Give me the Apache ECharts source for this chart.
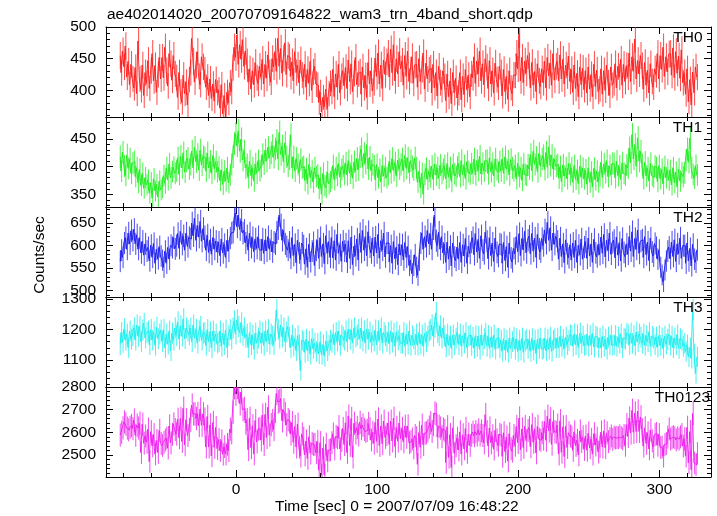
<!DOCTYPE html>
<html>
<head>
<meta charset="utf-8">
<script src="https://cdn.jsdelivr.net/npm/echarts@6/dist/echarts.min.js"></script>
<style>html,body{margin:0;padding:0;background:#fff}#c{width:717px;height:516px}</style>
</head>
<body>
<div id="c"></div>
<script>
// ---- data: WAM light curves, 1-s bins, time of first bin centre ----
const TIME_START = -82;   // s
const BIN_SEC = 1;        // s

const th0 = [
455,428,462,437,470,421,446,409,441,418,
404,436,395,478,418,401,440,392,428,411,
447,403,431,458,415,439,397,425,452,418,
452,420,468,431,407,458,442,416,455,426,
420,389,428,398,381,424,395,413,377,417,
428,482,446,413,440,461,422,409,453,437,
432,405,421,392,418,387,410,383,417,396,
401,372,409,363,392,358,397,380,412,398,
436,468,452,487,441,472,449,480,438,462,
445,413,434,402,431,409,444,420,411,438,
421,449,410,441,419,456,428,413,450,437,
461,430,482,438,466,427,451,475,425,455,
452,422,445,415,461,428,440,412,448,424,
414,441,405,433,411,446,400,429,438,410,
408,381,397,366,389,374,402,370,395,411,
398,433,390,426,405,441,396,422,431,407,
436,403,448,414,442,398,427,452,409,426,
429,394,437,404,423,389,444,410,431,399,
412,451,422,459,410,440,403,448,425,445,
458,421,465,428,472,415,450,426,461,434,
446,408,455,422,462,414,432,453,411,440,
441,405,450,414,433,459,402,443,418,432,
435,396,441,404,428,391,438,412,401,431,
422,384,426,390,415,379,428,396,419,388,
396,428,385,422,393,433,401,424,390,426,
420,453,411,446,426,462,415,442,409,450,
437,403,447,410,431,396,443,417,405,438,
428,391,433,398,422,386,431,404,395,424,
424,458,434,489,415,452,412,446,427,455,
439,404,444,408,430,398,442,415,406,434,
412,446,404,452,423,443,408,458,416,438,
446,415,456,418,449,410,440,423,454,414,
433,397,440,403,427,390,437,409,435,401,
431,396,437,402,425,390,441,406,432,398,
402,434,394,431,400,440,412,392,437,408,
412,442,404,438,421,449,408,441,414,439,
421,459,414,453,430,481,418,447,426,455,
439,402,444,408,432,396,442,414,405,434,
425,458,418,455,433,468,422,453,429,457,
458,424,467,420,461,427,454,419,464,412,
428,394,434,382,417,377,429,396,437,421
];

const th1 = [
418,392,426,401,384,421,397,414,388,406,
409,382,398,371,395,366,388,361,380,367,
376,352,371,343,378,356,368,345,374,358,
362,384,370,398,376,405,380,391,399,388,
392,416,386,419,398,425,390,410,415,396,
404,428,398,435,409,422,394,430,403,418,
416,392,425,398,410,388,420,396,409,391,
399,375,394,368,392,374,398,371,385,404,
418,442,460,438,465,428,450,412,428,398,
404,380,410,384,398,374,405,388,411,393,
400,422,405,430,410,435,416,425,438,417,
432,447,414,462,422,437,409,443,418,401,
414,458,398,418,392,415,404,389,413,398,
400,375,396,369,404,380,393,372,398,382,
385,360,380,350,388,366,362,391,369,373,
380,402,376,398,384,406,381,395,401,386,
407,385,411,388,402,379,409,392,415,394,
418,432,399,424,406,440,396,417,393,404,
401,376,404,380,395,372,402,383,398,380,
386,410,389,415,393,407,383,412,396,404,
414,392,420,397,416,389,411,400,394,416,
398,372,391,362,388,350,386,397,377,392,
381,401,377,405,385,398,379,403,388,395,
402,378,406,381,398,373,404,387,383,399,
406,382,411,385,402,378,409,391,387,405,
388,414,385,411,393,419,387,406,392,410,
411,387,416,391,406,383,414,395,390,409,
392,414,388,418,395,410,385,413,398,393,
402,378,406,382,398,375,405,386,384,403,
396,422,393,428,404,417,391,424,401,414,
420,395,426,399,436,402,421,396,414,401,
404,379,400,373,403,383,398,378,406,386,
398,372,402,377,393,369,401,381,397,378,
394,368,398,372,390,363,397,376,392,372,
383,408,380,405,389,411,382,402,386,406,
405,380,410,384,401,377,407,388,385,403,
398,434,407,458,414,440,401,452,410,428,
404,378,408,383,398,374,406,384,381,401,
398,373,402,378,395,369,400,380,394,376,
393,367,398,371,390,363,396,374,389,382,
389,412,432,408,452,398,386,379,402,385
];

const th2 = [
565,590,574,606,618,592,628,604,633,612,
636,604,624,592,618,584,610,579,604,588,
596,566,601,574,605,561,592,571,598,577,
568,552,588,561,596,570,601,596,618,593,
600,627,594,632,603,622,590,628,598,618,
615,650,622,661,612,645,619,654,610,638,
620,590,624,585,613,581,618,592,610,586,
608,578,615,584,603,574,612,588,617,628,
630,660,672,642,668,636,656,628,634,606,
622,590,628,596,618,587,615,594,620,591,
590,615,583,613,588,620,592,611,586,608,
604,630,638,668,646,612,634,604,598,590,
608,572,618,578,603,562,612,584,569,606,
600,559,593,552,603,564,588,607,556,590,
612,572,618,576,604,560,622,583,609,574,
618,573,611,568,625,583,602,565,610,588,
604,563,611,572,619,558,599,578,615,568,
627,585,634,590,620,578,631,597,584,617,
577,619,584,625,572,611,590,628,575,606,
606,564,600,561,609,571,597,558,604,579,
602,568,607,574,598,556,568,538,556,580,
552,534,568,606,628,592,620,598,634,604,
626,592,638,668,611,600,630,592,620,584,
604,563,608,570,599,555,606,575,567,597,
570,607,563,602,577,616,561,599,583,608,
618,580,627,586,614,572,622,590,582,630,
610,571,618,578,606,565,617,585,576,604,
602,561,607,567,598,552,606,573,564,594,
582,620,587,627,578,616,591,632,584,612,
621,582,627,588,617,574,625,593,586,616,
600,635,605,652,612,640,590,628,603,621,
610,570,617,576,604,562,613,582,573,602,
568,606,574,612,563,601,580,615,570,597,
609,572,617,577,604,563,614,584,575,603,
580,619,583,625,575,612,590,628,581,607,
612,573,619,579,607,566,616,585,576,604,
581,620,588,631,576,616,592,635,583,610,
613,574,620,580,608,567,617,586,577,605,
596,570,590,552,535,520,546,566,588,597,
571,608,576,613,565,604,582,617,572,600,
600,561,606,566,594,555,603,570,563,591
];

const th3 = [
1150,1190,1158,1202,1165,1185,1140,1195,1168,1180,
1205,1165,1215,1178,1210,1160,1198,1220,1172,1190,
1195,1150,1200,1165,1192,1148,1208,1170,1185,1198,
1160,1200,1140,1185,1152,1195,1130,1188,1165,1205,
1180,1225,1168,1212,1178,1235,1170,1205,1196,1182,
1205,1160,1215,1172,1200,1155,1195,1210,1165,1188,
1190,1148,1200,1160,1192,1140,1195,1162,1185,1155,
1160,1195,1145,1188,1150,1198,1140,1180,1200,1168,
1205,1228,1185,1232,1210,1190,1222,1180,1205,1175,
1185,1140,1190,1150,1182,1135,1188,1155,1172,1195,
1155,1190,1148,1195,1160,1200,1152,1185,1178,1150,
1195,1265,1200,1172,1215,1175,1205,1160,1192,1210,
1175,1140,1182,1145,1170,1130,1180,1150,1065,1165,
1160,1125,1168,1130,1162,1118,1170,1138,1155,1128,
1155,1120,1160,1118,1150,1112,1162,1130,1148,1165,
1158,1185,1150,1190,1162,1195,1148,1182,1175,1165,
1195,1160,1202,1168,1198,1155,1205,1175,1182,1200,
1170,1205,1162,1195,1155,1202,1168,1192,1158,1180,
1162,1198,1150,1195,1165,1205,1155,1190,1180,1160,
1190,1152,1195,1158,1188,1145,1192,1165,1180,1155,
1155,1190,1145,1185,1152,1195,1148,1180,1170,1150,
1185,1148,1190,1152,1182,1145,1188,1160,1178,1195,
1200,1215,1178,1208,1255,1190,1180,1212,1172,1205,
1180,1142,1185,1148,1178,1138,1182,1150,1172,1190,
1150,1185,1145,1180,1155,1190,1140,1178,1182,1148,
1175,1138,1180,1145,1178,1135,1182,1148,1170,1188,
1145,1180,1138,1175,1142,1182,1135,1170,1172,1140,
1165,1128,1170,1132,1165,1125,1172,1138,1160,1175,
1135,1170,1128,1165,1132,1172,1125,1162,1168,1138,
1165,1128,1170,1132,1165,1120,1168,1138,1172,1135,
1138,1172,1130,1168,1135,1175,1128,1165,1170,1140,
1172,1140,1178,1145,1168,1138,1175,1150,1165,1182,
1180,1145,1186,1150,1182,1140,1188,1155,1178,1148,
1150,1185,1145,1180,1150,1188,1142,1178,1175,1140,
1172,1140,1178,1145,1168,1135,1175,1150,1180,1148,
1150,1180,1145,1175,1155,1185,1140,1172,1168,1188,
1182,1150,1188,1155,1180,1148,1192,1160,1185,1175,
1155,1185,1148,1180,1160,1190,1145,1178,1172,1150,
1175,1142,1180,1148,1172,1138,1178,1152,1168,1185,
1148,1178,1140,1172,1150,1182,1138,1170,1165,1145,
1155,1128,1150,1110,1140,1105,1265,1120,1055,1110
];

// TH0123 is the sum of the four bands
const th0123 = th0.map((v, i) => v + th1[i] + th2[i] + th3[i]);

const panelNames = ['TH0', 'TH1', 'TH2', 'TH3', 'TH0123'];
const yMins = [358, 327, 486, 1011, 2403];
const yMaxs = [500, 490, 686, 1307, 2800];
const yLabelTicks = [[400,450,500],[350,400,450],[500,550,600,650],[1100,1200,1300],[2500,2600,2700,2800]];
const yMinorStep = [10, 10, 10, 20, 20];
const xLabelTicks = [0, 100, 200, 300];
const xMinorStep = 20;
const X_MIN = -92.1, X_MAX = 336.6;

const title = 'ae402014020_20070709164822_wam3_trn_4band_short.qdp';
const xTitle = 'Time [sec] 0 = 2007/07/09 16:48:22';
const yTitle = 'Counts/sec';

// ---- chart construction ----
const series_values = [th0, th1, th2, th3, th0123];
const colors = ['#ff1a1a', '#1aee1a', '#1a1aee', '#1aeeee', '#ee1aee'];
const FONT = '"Liberation Sans", Arial, Helvetica, sans-serif';
const gridTops = [27, 117, 207, 297, 387];
const PH = 90;

function multiples(min, max, step) {
  const out = [];
  for (let v = Math.ceil(min / step) * step; v <= max + 1e-9; v += step) out.push(v);
  return out;
}
const xMinor = multiples(X_MIN, X_MAX, xMinorStep);
const xMajor = multiples(X_MIN, X_MAX, 100);
const plain = v => String(Math.round(v));

const grid = [], xAxis = [], yAxis = [], series = [], graphic = [];
const lineStyle = { color: '#000', width: 1 };

series_values.forEach((vals, i) => {
  grid.push({ left: 106, right: 6, top: gridTops[i], height: PH });
  const base = { gridIndex: i, type: 'value', min: X_MIN, max: X_MAX, splitLine: { show: false }, axisLine: { show: false, onZero: false, lineStyle } };
  xAxis.push(Object.assign({}, base, { position: 'bottom', axisLine: { show: true, onZero: false, lineStyle },
    axisTick: { show: true, inside: true, length: 4, customValues: xMinor, lineStyle }, axisLabel: { show: false } }));
  xAxis.push(Object.assign({}, base, { position: 'bottom',
    axisTick: { show: true, inside: true, length: 7, customValues: xMajor, lineStyle },
    axisLabel: { show: i === 4, customValues: xLabelTicks, formatter: plain, margin: 5, fontSize: 15.5, color: '#000', fontFamily: FONT } }));
  xAxis.push(Object.assign({}, base, { position: 'top', axisLine: { show: true, onZero: false, lineStyle },
    axisTick: { show: true, inside: true, length: 4, customValues: xMinor, lineStyle }, axisLabel: { show: false } }));
  xAxis.push(Object.assign({}, base, { position: 'top',
    axisTick: { show: true, inside: true, length: 7, customValues: xMajor, lineStyle }, axisLabel: { show: false } }));

  const yb = { gridIndex: i, type: 'value', min: yMins[i], max: yMaxs[i], splitLine: { show: false }, axisLine: { show: false, onZero: false, lineStyle } };
  const yMinor = multiples(yMins[i], yMaxs[i], yMinorStep[i]);
  const yMajor = yLabelTicks[i].filter(v => v >= yMins[i] && v <= yMaxs[i]);
  yAxis.push(Object.assign({}, yb, { position: 'left', axisLine: { show: true, onZero: false, lineStyle },
    axisTick: { show: true, inside: true, length: 7, customValues: yMajor, lineStyle },
    axisLabel: { show: true, customValues: yMajor, formatter: plain, margin: 10, fontSize: 15.5, color: '#000', fontFamily: FONT, showMinLabel: true, showMaxLabel: true } }));
  yAxis.push(Object.assign({}, yb, { position: 'left',
    axisTick: { show: true, inside: true, length: 4, customValues: yMinor, lineStyle }, axisLabel: { show: false } }));
  yAxis.push(Object.assign({}, yb, { position: 'right', axisLine: { show: true, onZero: false, lineStyle },
    axisTick: { show: true, inside: true, length: 7, customValues: yMajor, lineStyle }, axisLabel: { show: false } }));
  yAxis.push(Object.assign({}, yb, { position: 'right',
    axisTick: { show: true, inside: true, length: 4, customValues: yMinor, lineStyle }, axisLabel: { show: false } }));

  const color = colors[i];
  const data = vals.map((v, k) => [TIME_START + k * BIN_SEC, v, Math.sqrt(v * BIN_SEC) / BIN_SEC]);
  // error bars
  series.push({
    type: 'custom', xAxisIndex: i * 4, yAxisIndex: i * 4, clip: true, animation: false,
    dimensions: ['t', 'rate', 'err'], encode: { x: 0, y: 1 },
    data,
    renderItem: function (params, api) {
      const t = api.value(0), v = api.value(1), e = api.value(2);
      const a = api.coord([t, v - e]), b = api.coord([t, v + e]);
      return { type: 'line', shape: { x1: a[0], y1: a[1], x2: b[0], y2: b[1] }, style: { stroke: color, lineWidth: 1, opacity: 0.8 } };
    }
  });
  // bin values (step trace)
  series.push({
    type: 'line', xAxisIndex: i * 4, yAxisIndex: i * 4, step: 'middle', symbol: 'none', clip: true, animation: false,
    data: data.map(d => [d[0], d[1]]),
    lineStyle: { color: color, width: 1, opacity: 0.9 }
  });
});

const nameRight = [702.5, 702, 702.5, 702.5, 710];
panelNames.forEach((n, i) => {
  graphic.push({ type: 'text', right: 717 - nameRight[i], top: gridTops[i] + 3, z: 100,
    style: { text: n, font: '15.5px ' + FONT, fill: '#000' } });
});
graphic.push({ type: 'text', left: 107, top: 7, style: { text: title, font: '15.5px ' + FONT, fill: '#000' } });
graphic.push({ type: 'text', left: 275, top: 499, style: { text: xTitle, font: '15.5px ' + FONT, fill: '#000' } });
graphic.push({ type: 'text', x: 40, y: 255, rotation: Math.PI / 2,
  style: { text: yTitle, font: '15.5px ' + FONT, fill: '#000', textAlign: 'center', textVerticalAlign: 'middle' } });

const chart = echarts.init(document.getElementById('c'), null, { renderer: 'canvas' });
chart.setOption({ animation: false, backgroundColor: '#fff', grid, xAxis, yAxis, series, graphic });
</script>
</body>
</html>
